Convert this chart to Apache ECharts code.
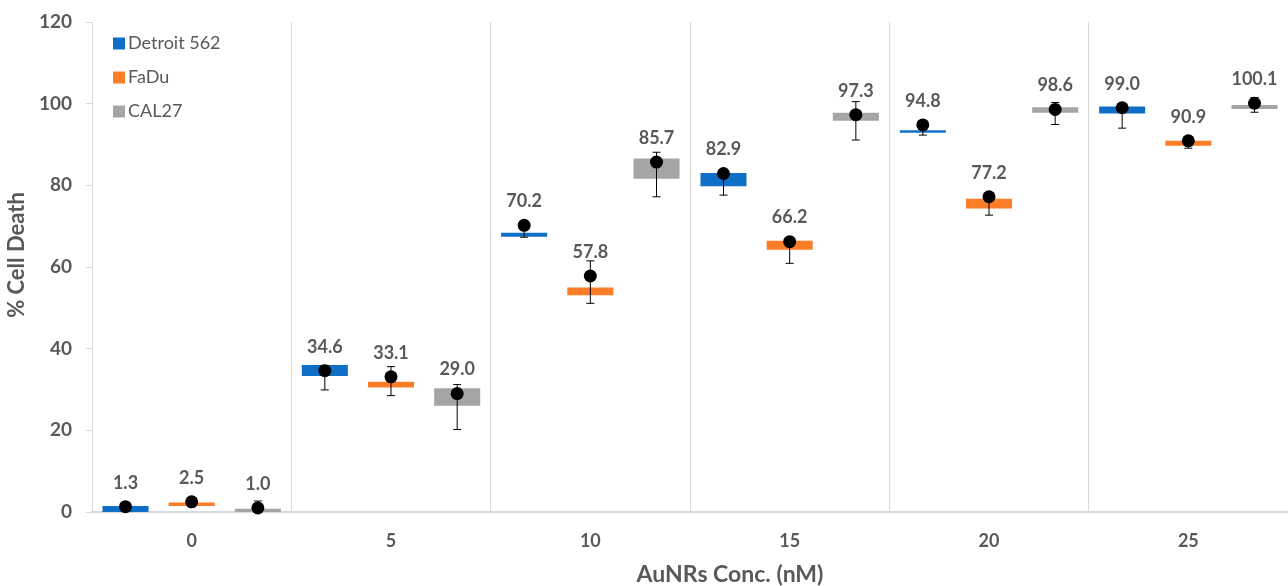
<!DOCTYPE html>
<html>
<head>
<meta charset="utf-8">
<script src="https://cdn.jsdelivr.net/npm/echarts@6/dist/echarts.min.js"></script>
<style>
html,body{margin:0;padding:0;background:#fff;}
#graph{width:1288px;height:586px;}
</style>
</head>
<body>
<div id="graph"></div>
<script>
var categories = ['0', '5', '10', '15', '20', '25'];
var seriesNames = ['Detroit 562', 'FaDu', 'CAL27'];

// mean (dot + label)
var detroitMean = [1.3, 34.6, 70.2, 82.9, 94.8, 99.0];
var fadUMean = [2.5, 33.1, 57.8, 66.2, 77.2, 90.9];
var cal27Mean = [1.0, 29.0, 85.7, 97.3, 98.6, 100.1];

// box bottom / top
var detroitLow = [0, 33.3, 67.4, 79.8, 92.9, 97.6];
var detroitHigh = [1.5, 36.0, 68.4, 83.0, 93.5, 99.3];
var fadULow = [1.5, 30.5, 53.1, 64.2, 74.3, 89.7];
var fadUHigh = [2.3, 31.9, 55.0, 66.4, 76.7, 90.9];
var cal27Low = [0, 26.0, 81.6, 95.8, 97.8, 98.7];
var cal27High = [0.8, 30.3, 86.6, 97.8, 99.1, 99.7];

// error bars
var detroitErrLow = [1.0, 29.9, 67.3, 77.6, 92.3, 94.0];
var detroitErrHigh = [1.6, 35.9, 70.6, 83.5, 95.3, 99.5];
var fadUErrLow = [2.0, 28.5, 51.1, 60.9, 72.7, 89.1];
var fadUErrHigh = [2.8, 35.6, 61.5, 67.0, 78.2, 91.5];
var cal27ErrLow = [0.3, 20.2, 77.2, 91.1, 94.9, 97.9];
var cal27ErrHigh = [2.7, 31.2, 88.1, 100.5, 100.3, 101.5];

var colors = ['#0F6FC6', '#FB7D28', '#A5A5A5'];
var textColor = '#595959';
var font = 'Lato, "Open Sans", sans-serif';

function buildRows(low, high, mean, errLow, errHigh) {
    var rows = [];
    for (var i = 0; i < categories.length; i++) {
        rows.push([i, low[i], high[i], mean[i], errLow[i], errHigh[i]]);
    }
    return rows;
}

function makeRender(slot) {
    return function (params, api) {
        var bw = api.size([1, 0])[0];
        var off = (slot - 1) * bw * 0.332;
        var barW = bw * 0.231;
        var c = api.coord([api.value(0), 0]);
        var x = c[0] + off;
        var yLow = api.coord([api.value(0), api.value(1)])[1];
        var yHigh = api.coord([api.value(0), api.value(2)])[1];
        var yMean = api.coord([api.value(0), api.value(3)])[1];
        var yeL = api.coord([api.value(0), api.value(4)])[1];
        var yeH = api.coord([api.value(0), api.value(5)])[1];
        var cap = 4;
        var col = colors[slot];
        return {
            type: 'group',
            children: [
                { type: 'rect', shape: { x: x - barW / 2, y: yHigh, width: barW, height: Math.max(yLow - yHigh, 1.5) },
                  style: { fill: col } },
                { type: 'line', shape: { x1: x, y1: yeL, x2: x, y2: yeH }, style: { stroke: '#000', lineWidth: 1 } },
                { type: 'line', shape: { x1: x - cap, y1: yeL, x2: x + cap, y2: yeL }, style: { stroke: '#000', lineWidth: 1 } },
                { type: 'line', shape: { x1: x - cap, y1: yeH, x2: x + cap, y2: yeH }, style: { stroke: '#000', lineWidth: 1 } },
                { type: 'circle', shape: { cx: x, cy: yMean, r: 6.5 }, style: { fill: '#000' } },
                { type: 'text', x: x, y: yMean - 24,
                  style: { text: api.value(3).toFixed(1), fill: textColor, font: 'bold 18px ' + font,
                           align: 'center', verticalAlign: 'middle' } }
            ]
        };
    };
}

var allData = [
    buildRows(detroitLow, detroitHigh, detroitMean, detroitErrLow, detroitErrHigh),
    buildRows(fadULow, fadUHigh, fadUMean, fadUErrLow, fadUErrHigh),
    buildRows(cal27Low, cal27High, cal27Mean, cal27ErrLow, cal27ErrHigh)
];

var series = [];
for (var s = 0; s < 3; s++) {
    series.push({
        name: seriesNames[s],
        type: 'custom',
        renderItem: makeRender(s),
        itemStyle: { color: colors[s] },
        encode: { x: 0, y: [1, 2, 3, 4, 5] },
        data: allData[s]
    });
}

var myChart = echarts.init(document.getElementById('graph'));
var option = {
    backgroundColor: '#fff',
    animation: false,
    grid: { left: 92, right: 0, top: 22, bottom: 74, containLabel: false, outerBoundsMode: 'none' },
    legend: {
        orient: 'vertical',
        left: 108,
        top: 28,
        icon: 'rect',
        itemWidth: 12,
        itemHeight: 12,
        itemGap: 13,
        textStyle: { color: textColor, fontSize: 18, fontFamily: font, lineHeight: 21, padding: [0, 0, 0, -2] },
        data: seriesNames
    },
    xAxis: {
        type: 'category',
        data: categories,
        name: 'AuNRs Conc. (nM)',
        nameLocation: 'middle',
        nameGap: 51,
        nameTextStyle: { color: textColor, fontSize: 23, fontWeight: 'bold', fontFamily: font, padding: [0, 0, 0, 80] },
        axisLine: { lineStyle: { color: '#d9d9d9', width: 2 } },
        axisTick: { show: false },
        axisLabel: { color: textColor, fontSize: 18, fontWeight: 'bold', fontFamily: font, margin: 20 },
        splitLine: { show: true, lineStyle: { color: '#d9d9d9', width: 1 } }
    },
    yAxis: {
        type: 'value',
        min: 0,
        max: 120,
        interval: 20,
        name: '% Cell Death',
        nameLocation: 'middle',
        nameGap: 64,
        nameTextStyle: { color: textColor, fontSize: 22, fontWeight: 'bold', fontFamily: font, padding: [0, 0, 0, 24] },
        axisLine: { show: true, lineStyle: { color: '#d9d9d9' } },
        axisTick: { show: true, length: 6, lineStyle: { color: '#d9d9d9' } },
        axisLabel: { color: textColor, fontSize: 19, fontWeight: 'bold', fontFamily: font, margin: 20 },
        splitLine: { show: false }
    },
    series: series
};
myChart.setOption(option, true);
</script>
</body>
</html>
